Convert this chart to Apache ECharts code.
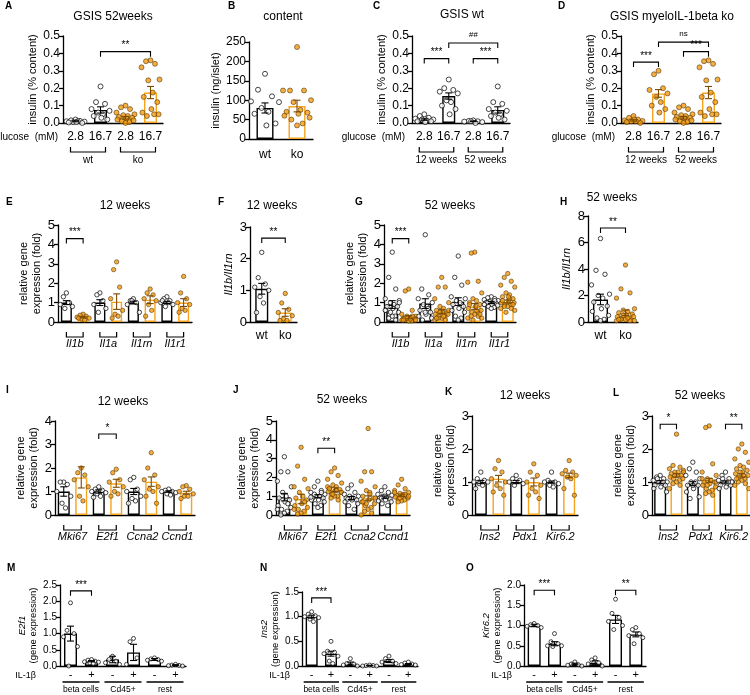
<!DOCTYPE html>
<html><head><meta charset="utf-8">
<script src="https://cdn.jsdelivr.net/npm/echarts@6/dist/echarts.min.js"></script>
<style>html,body{margin:0;padding:0;background:#fff}#c{width:750px;height:695px}</style>
</head><body><div id="c"></div>
<script>
// ---------------- DATA ----------------
const glucoseTicks = ['2.8','16.7','2.8','16.7'];
const wtko = ['wt','ko'];
const il1Genes = ['Il1b','Il1a','Il1rn','Il1r1'];
const cycleGenes = ['Mki67','E2f1','Ccna2','Ccnd1'];
const betaGenes = ['Ins2','Pdx1','Kir6.2'];
const cellGroups = ['beta cells','Cd45+','rest'];
const il1Treat = ['-','+','-','+','-','+'];

// A: GSIS 52 weeks (wt 2.8, wt 16.7, ko 2.8, ko 16.7)
const A_mean = [0.01, 0.075, 0.03, 0.175];
const A_sem  = [0.003, 0.018, 0.008, 0.035];
const wt52_28  = [0.02,0.015,0.012,0.01,0.008,0.005,0.01,0.003,0.0,0.006];
const wt52_167 = [0.21,0.12,0.11,0.08,0.07,0.06,0.05,0.04,0.02,0.03];
const ko52_28  = [0.1,0.09,0.08,0.06,0.05,0.045,0.04,0.035,0.03,0.025,0.02,0.015,0.01,0.005,0.0];
const ko52_167 = [0.36,0.355,0.34,0.32,0.25,0.245,0.175,0.15,0.12,0.08,0.06,0.05,0.04,0.05];
const A_sig = [[1,3,0.41,'**']];

// B: content
const B_mean = [80, 85];
const B_sem  = [13, 15];
const B_wt = [168,127,110,97,95,80,70,65,40,35];
const B_ko = [237,125,125,125,100,95,75,70,68,65,60,55,50,40,35];

// C: GSIS wt (12w 2.8, 12w 16.7, 52w 2.8, 52w 16.7)
const C_mean = [0.02, 0.155, 0.01, 0.075];
const C_sem  = [0.004, 0.018, 0.002, 0.018];
const wt12_28  = [0.05,0.04,0.03,0.025,0.02,0.02,0.015,0.01,0.01,0.005];
const wt12_167 = [0.25,0.2,0.19,0.18,0.17,0.13,0.12,0.1,0.08,0.05];
const wt52b_28 = [0.015,0.012,0.01,0.008,0.005,0.01,0.0];
const C_sig = [[0,1,0.37,'***'],[1,3,0.46,'##'],[2,3,0.37,'***']];

// D: GSIS myeloIL-1beta ko
const D_mean = [0.015, 0.17, 0.03, 0.175];
const D_sem  = [0.004, 0.022, 0.008, 0.035];
const ko12_28  = [0.04,0.03,0.02,0.015,0.012,0.01,0.01,0.005,0.0,0.02];
const ko12_167 = [0.3,0.28,0.2,0.19,0.17,0.15,0.12,0.1,0.08,0.06];
const D_sig = [[0,1,0.35,'***'],[1,3,0.465,'ns'],[2,3,0.41,'***']];

// E: 12 weeks IL-1 family
const E_mean = [1.0,0.25,1.0,1.05,1.0,1.15,1.0,1.0];
const E_sem  = [0.1,0.04,0.15,0.4,0.07,0.2,0.05,0.2];
const E_pts = [
  [1.5,1.3,1.0,0.9,0.8,0.7,1.0],
  [0.4,0.35,0.3,0.25,0.2,0.15,0.1,0.2],
  [1.5,1.4,1.1,0.9,0.7,0.5],
  [3.1,2.7,1.8,1.2,0.6,0.4,0.3,0.2],
  [1.2,1.1,1.0,0.9,0.5,1.1],
  [1.7,1.5,1.4,1.2,1.1,0.9,0.6,0.3],
  [1.3,1.2,1.1,1.0,0.9,0.8,1.0,1.1],
  [2.35,1.5,1.2,1.0,0.9,0.7,0.6,0.5]];
const E_sig = [[0,1,4.3,'***']];

// F: Il1b/Il1rn 12 weeks
const F_mean = [1.05, 0.3];
const F_sem  = [0.17, 0.12];
const F_wt = [2.2,1.4,1.2,1.1,1.0,0.8,0.6,0.3];
const F_ko = [0.9,0.6,0.4,0.3,0.2,0.1,0.05,0.05];
const F_sig = [[0,1,2.65,'**']];

// G: 52 weeks IL-1 family
const G_mean = [0.9,0.25,0.95,0.55,1.05,0.8,1.0,1.05];
const G_sem  = [0.2,0.08,0.25,0.1,0.2,0.15,0.05,0.08];
const G_pts = [
  [3.6,2.3,1.7,1.2,1.1,1.0,0.9,0.8,0.8,0.7,0.6,0.5,0.4,0.3,0.3,0.2,0.1,0.6,1.0,0.5],
  [1.7,1.6,0.6,0.4,0.3,0.3,0.2,0.2,0.2,0.15,0.1,0.1,0.1,0.05,0.05,0.2,0.3,0.1,0.1,0.2,0.15,0.1],
  [4.5,1.7,1.4,1.2,1.0,0.9,0.8,0.6,0.5,0.4,0.3,0.2,0.1,0.7,0.5],
  [2.3,1.8,1.8,1.2,1.0,0.8,0.7,0.6,0.5,0.5,0.4,0.4,0.3,0.3,0.2,0.2,0.1,0.1,0.6,0.5,0.3,0.2],
  [3.4,2.3,1.9,1.3,1.2,1.1,1.0,0.9,0.8,0.7,0.6,0.5,0.3,0.2,0.1],
  [3.6,3.55,2.1,2.05,1.5,1.2,1.1,1.0,0.9,0.8,0.7,0.6,0.5,0.5,0.4,0.3,0.3,0.2,0.2,0.1,0.6,0.9,0.4],
  [1.3,1.25,1.2,1.15,1.1,1.05,1.0,1.0,0.95,0.9,0.9,0.85,0.8,0.75,0.7,1.0,1.1,0.9],
  [2.5,2.3,2.1,1.9,1.8,1.5,1.4,1.3,1.2,1.1,1.0,1.0,0.9,0.9,0.8,0.8,0.7,0.7,0.6,0.5,1.2,1.1,0.9,1.3]];
const G_sig = [[0,1,4.3,'***']];

// H: Il1b/Il1rn 52 weeks
const H_mean = [1.7, 0.7];
const H_sem  = [0.4, 0.2];
const H_wt = [6.3,3.9,3.6,2.8,2.1,2.0,1.8,1.5,1.2,1.0,0.8,0.5,0.3,0.2,0.1];
const H_ko = [4.3,2.5,2.2,1.8,1.0,0.9,0.8,0.7,0.6,0.5,0.4,0.4,0.3,0.3,0.2,0.2,0.1,0.1,0.1,0.5,0.3,0.2];
const H_sig = [[0,1,7.1,'**']];

// I: 12 weeks cell cycle
const I_mean = [1.0,1.6,1.0,1.35,1.0,1.42,1.0,0.95];
const I_sem  = [0.2,0.45,0.07,0.17,0.13,0.2,0.03,0.06];
const I_pts = [
  [1.4,1.4,1.3,1.0,0.8,0.5,0.3],
  [2.0,1.8,1.7,1.5,1.2,0.8,0.6],
  [1.2,1.1,1.05,1.0,0.95,0.9,0.8,0.75],
  [1.95,1.8,1.5,1.4,1.2,1.0,0.9,0.8],
  [1.6,1.5,1.1,1.0,0.8,0.7,0.6,0.5],
  [2.65,2.0,1.7,1.5,1.2,1.1,1.0,0.8,0.5],
  [1.1,1.05,1.0,1.0,0.95,0.9,0.85],
  [1.25,1.2,1.1,1.0,0.9,0.8,0.8,0.7]];
const I_sig = [[2,3,3.45,'*']];

// J: 52 weeks cell cycle
const J_mean = [0.95,0.85,1.0,1.35,0.9,0.9,0.95,1.05];
const J_sem  = [0.2,0.25,0.08,0.1,0.08,0.12,0.06,0.06];
const J_pts = [
  [3.1,2.3,2.3,1.8,1.5,1.2,1.0,0.9,0.8,0.7,0.5,0.4,0.3,0.2,0.1,0.0,0.6,0.3],
  [3.6,2.6,1.9,1.5,1.4,1.2,1.0,0.9,0.8,0.6,0.5,0.4,0.3,0.2,0.1,0.05,0.7,0.3],
  [1.8,1.5,1.3,1.2,1.1,1.0,1.0,0.9,0.9,0.8,0.8,0.7,0.6,0.5,0.4,1.1,1.2,0.95],
  [2.5,2.3,2.1,1.9,1.7,1.6,1.5,1.4,1.35,1.3,1.25,1.2,1.1,1.0,1.0,0.9,0.8,1.5,1.2,1.1,1.3,1.4],
  [1.6,1.4,1.2,1.1,1.0,1.0,0.9,0.9,0.8,0.8,0.7,0.6,0.5,0.3,0.9,0.85],
  [4.6,2.3,2.3,1.8,1.5,1.3,1.2,1.0,0.9,0.8,0.7,0.6,0.5,0.4,0.3,0.2,0.1,0.0,0.9,0.6,1.1,0.7],
  [1.5,1.3,1.2,1.1,1.05,1.0,0.95,0.9,0.85,0.8,0.75,0.7,0.6,0.5,1.0,0.9],
  [1.9,1.6,1.4,1.3,1.2,1.15,1.1,1.05,1.0,1.0,0.95,0.9,0.85,0.8,0.75,0.7,1.1,1.2,1.0,0.9]];
const J_sig = [[2,3,3.55,'**']];

// K: 12 weeks beta-cell genes
const K_mean = [1.0,1.1,1.0,1.0,1.0,1.2];
const K_sem  = [0.05,0.1,0.05,0.12,0.03,0.07];
const K_pts = [
  [1.3,1.1,1.05,1.0,1.0,0.95,0.9,0.8],
  [1.65,1.4,1.3,1.1,1.0,0.9,0.8,0.7,0.6],
  [1.2,1.1,1.05,1.0,0.95,0.9],
  [1.55,1.3,1.2,1.0,0.9,0.8,0.7,0.6,0.5],
  [1.3,1.05,1.0,1.0,0.95,0.9,0.85],
  [1.65,1.35,1.3,1.25,1.2,1.15,1.1,0.8,0.6]];

// L: 52 weeks beta-cell genes
const L_mean = [1.0,1.2,0.95,1.05,1.0,1.2];
const L_sem  = [0.04,0.05,0.06,0.06,0.03,0.05];
const L_pts = [
  [1.2,1.15,1.1,1.05,1.0,1.0,0.95,0.9,0.9,0.85,0.8,0.7,1.1,1.0],
  [2.45,1.5,1.45,1.4,1.35,1.3,1.3,1.25,1.2,1.2,1.15,1.1,1.1,1.05,1.0,0.95,0.9,0.8,1.3,1.2],
  [1.6,1.4,1.3,1.2,1.1,1.0,0.95,0.9,0.9,0.8,0.7,0.55,0.5,1.0,0.9],
  [2.7,2.65,1.55,1.3,1.2,1.1,1.05,1.0,1.0,0.95,0.9,0.85,0.8,0.75,0.7,0.65,0.6,1.1,1.0,0.9],
  [1.3,1.2,1.1,1.05,1.0,1.0,0.95,0.9,0.9,0.85,0.8,1.0,1.1,1.0],
  [2.15,2.0,1.9,1.7,1.6,1.5,1.45,1.4,1.35,1.3,1.25,1.2,1.15,1.1,1.05,1.0,0.95,0.9,0.8,1.3,1.2,1.1]];
const L_sig = [[0,1,2.75,'*'],[4,5,2.75,'**']];

// M: E2f1 after IL-1beta
const M_mean = [1.0,0.15,0.2,0.42,0.2,0.03];
const M_sem  = [0.23,0.02,0.1,0.25,0.03,0.01];
const M_pts = [
  [1.95,1.1,1.0,0.9,0.6,0.0],
  [0.2,0.18,0.15,0.13,0.12,0.1,0.08],
  [0.3,0.2,0.15,0.1,0.05],
  [0.85,0.75,0.25,0.05],
  [0.25,0.22,0.2,0.18,0.15],
  [0.05,0.03,0.02,0.01,0.0]];
const M_sig = [[0,1,2.32,'***']];

// N: Ins2 after IL-1beta
const N_mean = [1.0,0.25,0.05,0.01,0.1,0.04];
const N_sem  = [0.03,0.05,0.03,0.005,0.03,0.01];
const N_pts = [
  [1.1,1.05,1.02,1.0,0.98,0.95,0.9],
  [0.5,0.3,0.28,0.25,0.2,0.1,0.05],
  [0.15,0.05,0.04,0.02,0.0],
  [0.02,0.01,0.01,0.0,0.0],
  [0.2,0.15,0.1,0.08,0.05],
  [0.08,0.06,0.04,0.03,0.02]];
const N_sig = [[0,1,1.38,'***']];

// O: Kir6.2 after IL-1beta
const O_mean = [1.0,0.55,0.05,0.08,1.15,0.78];
const O_sem  = [0.03,0.05,0.02,0.05,0.1,0.06];
const O_pts = [
  [1.05,1.02,1.0,0.98,0.95],
  [0.8,0.6,0.55,0.5,0.5,0.48],
  [0.1,0.05,0.03,0.02,0.0],
  [0.2,0.15,0.08,0.05,0.0],
  [1.65,1.3,1.2,1.1,1.0,0.9],
  [0.95,0.9,0.8,0.75,0.7,0.55]];
const O_sig = [[0,1,1.87,'***'],[4,5,1.87,'**']];

// ---------------- RENDERING ----------------
const FONT = 'Liberation Sans, Arial, sans-serif';
const NARROW = 'Liberation Sans Narrow, Liberation Sans, Arial, sans-serif';
const ORANGE = '#F6A31E';
const PT_OR = '#F39A14';
const PT_OR_EDGE = '#4a3000';
const jitPat = [0,-0.5,0.5,-1,1,-0.25,0.25,-0.75,0.75,0.1,-0.9,0.9,-0.4,0.4];

const option = {animation:false, backgroundColor:'#fff', grid:[], xAxis:[], yAxis:[], series:[], graphic:[]};

function addPanel(p){
  const gi = option.grid.length;
  const ff = p.font || FONT;
  const col = i => p.colors[i] === 'o' ? ORANGE : '#000';
  option.grid.push({left:p.left, top:p.top, width:p.width, height:p.height});
  option.xAxis.push({type:'category', gridIndex:gi, data:p.means.map((_,i)=>'c'+i),
    axisLine:{show:true, onZero:false, lineStyle:{color:'#000', width:1.3}}, axisTick:{show:false},
    axisLabel:{show:!!p.xlabels, interval:0, color:'#000', fontSize:p.xfs||11, fontFamily:ff, margin:p.xmargin||5,
      formatter:(v,i)=>p.xlabels ? p.xlabels[i] : ''},
    splitLine:{show:false}});
  option.yAxis.push({type:'value', gridIndex:gi, min:0, max:p.max, interval:p.step,
    axisLine:{show:true, lineStyle:{color:'#000', width:1.3}},
    axisTick:{show:true, length:4, lineStyle:{color:'#000', width:1.3}},
    axisLabel:{color:'#000', fontSize:p.yfs||11, fontFamily:ff, margin:3, formatter:v=>v.toFixed(p.dec||0)},
    splitLine:{show:false},
    name:p.yname, nameLocation:'middle', nameRotate:90, nameGap:p.nameGap,
    nameTextStyle:{color:'#000', fontSize:p.nfs||11, fontFamily:ff, lineHeight:(p.nfs||11)+2,
      rich:{i:{fontStyle:'italic', fontSize:p.nfs||11, fontFamily:ff, color:'#000'}}}});
  // bars
  option.series.push({type:'bar', xAxisIndex:gi, yAxisIndex:gi, barWidth:p.bw, silent:true, z:2,
    data:p.means.map((m,i)=>({value:m, itemStyle:{color:'#fff', borderColor:col(i), borderWidth:1.4}}))});
  // points
  const pdata = [];
  p.points.forEach((arr,i)=>{
    arr.forEach((v,j)=>{
      const isO = p.colors[i] === 'o';
      pdata.push({value:[i,v], symbolOffset:[jitPat[j % jitPat.length]*p.spread, 0],
        itemStyle:{color:isO?PT_OR:'#fff', borderColor:isO?PT_OR_EDGE:'#000', borderWidth:isO?0.7:0.9}});
    });
  });
  option.series.push({type:'scatter', xAxisIndex:gi, yAxisIndex:gi, symbol:'circle', symbolSize:p.ps||4.5,
    silent:true, z:3, data:pdata});
  // error bars
  option.series.push({type:'custom', xAxisIndex:gi, yAxisIndex:gi, clip:false, silent:true, z:4,
    encode:{x:0, y:1},
    data:p.means.map((m,i)=>[i, m, p.sem[i]]),
    renderItem:(params, api)=>{
      const x = api.value(0), m = api.value(1), e = api.value(2);
      const t = api.coord([x, m+e]), b = api.coord([x, Math.max(0, m-e)]);
      const c = p.colors[params.dataIndex] === 'o' ? '#7a4a00' : '#000';
      const cap = p.cap || 3.5;
      const st = {stroke:c, lineWidth:1.1};
      return {type:'group', children:[
        {type:'line', shape:{x1:t[0], y1:t[1], x2:b[0], y2:b[1]}, style:st},
        {type:'line', shape:{x1:t[0]-cap, y1:t[1], x2:t[0]+cap, y2:t[1]}, style:st},
        {type:'line', shape:{x1:b[0]-cap, y1:b[1], x2:b[0]+cap, y2:b[1]}, style:st}]};
    }});
  // significance brackets
  if (p.sig) {
    option.series.push({type:'custom', xAxisIndex:gi, yAxisIndex:gi, clip:false, silent:true, z:5,
      encode:{x:0, y:2},
      data:p.sig.map(s=>[s[0], s[1], s[2]]),
      renderItem:(params, api)=>{
        const a = api.coord([api.value(0), api.value(2)]);
        const b = api.coord([api.value(1), api.value(2)]);
        const tk = 5;
        const txt = p.sig[params.dataIndex][3];
        const small = (txt === 'ns' || txt === '##');
        return {type:'group', children:[
          {type:'polyline', shape:{points:[[a[0],a[1]+tk],[a[0],a[1]],[b[0],b[1]],[b[0],b[1]+tk]]},
            style:{stroke:'#000', lineWidth:1.1, fill:null}},
          {type:'text', x:(a[0]+b[0])/2, y:a[1]-(small?4:1),
            style:{text:txt, fill:'#000', fontSize:small?8:10, fontFamily:ff,
              fontStyle: txt==='##'?'italic':'normal',
              textAlign:'center', textVerticalAlign:'bottom'}}]};
      }});
  }
  // group brackets below axis
  if (p.groups) {
    const g = p.gstyle;
    option.series.push({type:'custom', xAxisIndex:gi, yAxisIndex:gi, clip:false, silent:true, z:5,
      encode:{x:0, y:2},
      data:p.groups.map(s=>[s[0], s[1], 0]),
      renderItem:(params, api)=>{
        const a = api.coord([api.value(0), 0]);
        const b = api.coord([api.value(1), 0]);
        const x1 = a[0]-g.ext, x2 = b[0]+g.ext;
        const y0 = a[1] + g.off;
        const pts = g.line ? [[x1,y0],[x2,y0]] : [[x1,y0],[x1,y0+g.h],[x2,y0+g.h],[x2,y0]];
        return {type:'group', children:[
          {type:'polyline', shape:{points:pts}, style:{stroke:'#000', lineWidth:g.lw||1.2, fill:null}},
          {type:'text', x:(x1+x2)/2, y:a[1]+g.toff,
            style:{text:p.groups[params.dataIndex][2], fill:'#000', fontSize:g.fs, fontFamily:g.ff||FONT,
              fontStyle:g.italic?'italic':'normal', textAlign:'center', textVerticalAlign:'middle'}}]};
      }});
  }
}

const ins = 'insulin (% content)';
const relExp = 'relative gene\nexpression (fold)';
const BK = ['k','k','k','k','k','k'];
const WKO2 = ['k','o'];
const WKO8 = ['k','o','k','o','k','o','k','o'];
const row1G = {off:24, h:5, ext:5, toff:37, fs:10};
const row2G = {off:10, h:5, ext:0, toff:22, fs:11, italic:true};
const row4G = {off:16, h:0, ext:8, toff:24, fs:8.5, line:true, lw:1.3, ff:NARROW};

// Row 1
addPanel({left:63, top:36, width:100, height:87, max:0.5, step:0.1, dec:1, yfs:12, nfs:11, yname:ins, nameGap:24,
  means:A_mean, sem:A_sem, colors:['k','k','o','o'], points:[wt52_28, wt52_167, ko52_28, ko52_167],
  bw:13, spread:9, ps:5, xlabels:glucoseTicks, xfs:12, xmargin:8, sig:A_sig,
  groups:[[0,1,'wt'],[2,3,'ko']], gstyle:row1G});
addPanel({left:249, top:42, width:64, height:97, max:250, step:50, yfs:12, nfs:11, yname:'insulin (ng/islet)', nameGap:27,
  means:B_mean, sem:B_sem, colors:WKO2, points:[B_wt, B_ko], bw:17, spread:14, ps:5, xlabels:wtko, xfs:12, xmargin:10});
addPanel({left:412, top:36, width:98, height:87, max:0.5, step:0.1, dec:1, yfs:12, nfs:11, yname:ins, nameGap:24,
  means:C_mean, sem:C_sem, colors:BK, points:[wt12_28, wt12_167, wt52b_28, wt52_167],
  bw:13, spread:9, ps:5, xlabels:glucoseTicks, xfs:12, xmargin:8, sig:C_sig,
  groups:[[0,1,'12 weeks'],[2,3,'52 weeks']], gstyle:row1G});
addPanel({left:621, top:36, width:100, height:87, max:0.5, step:0.1, dec:1, yfs:12, nfs:11, yname:ins, nameGap:24,
  means:D_mean, sem:D_sem, colors:['o','o','o','o'], points:[ko12_28, ko12_167, ko52_28, ko52_167],
  bw:13, spread:9, ps:5, xlabels:glucoseTicks, xfs:12, xmargin:8, sig:D_sig,
  groups:[[0,1,'12 weeks'],[2,3,'52 weeks']], gstyle:row1G});

// Row 2
addPanel({left:58, top:225, width:134, height:97, max:5, step:1, yfs:13, nfs:11, yname:relExp, nameGap:14,
  means:E_mean, sem:E_sem, colors:WKO8, points:E_pts, bw:11, spread:6, ps:4.4, sig:E_sig,
  groups:[[0,1,il1Genes[0]],[2,3,il1Genes[1]],[4,5,il1Genes[2]],[6,7,il1Genes[3]]], gstyle:row2G});
addPanel({left:250, top:227, width:47, height:95, max:3, step:1, yfs:13, nfs:11, yname:'{i|Il1b/Il1rn}', nameGap:14,
  means:F_mean, sem:F_sem, colors:WKO2, points:[F_wt, F_ko], bw:13, spread:7, ps:4.4, xlabels:wtko, xfs:12, xmargin:8, sig:F_sig});
addPanel({left:384, top:225, width:132, height:97, max:5, step:1, yfs:13, nfs:11, yname:relExp, nameGap:14,
  means:G_mean, sem:G_sem, colors:WKO8, points:G_pts, bw:12, spread:7, ps:4.4, sig:G_sig,
  groups:[[0,1,il1Genes[0]],[2,3,il1Genes[1]],[4,5,il1Genes[2]],[6,7,il1Genes[3]]], gstyle:row2G});
addPanel({left:588, top:216, width:50, height:106, max:8, step:2, yfs:13, nfs:11, yname:'{i|Il1b/Il1rn}', nameGap:14,
  means:H_mean, sem:H_sem, colors:WKO2, points:[H_wt, H_ko], bw:15, spread:9, ps:4.4, xlabels:wtko, xfs:12, xmargin:8, sig:H_sig});

// Row 3
addPanel({left:55, top:421, width:140, height:94, max:4, step:1, yfs:13, nfs:11, yname:relExp, nameGap:14,
  means:I_mean, sem:I_sem, colors:WKO8, points:I_pts, bw:12, spread:7, ps:4.4, sig:I_sig,
  groups:[[0,1,cycleGenes[0]],[2,3,cycleGenes[1]],[4,5,cycleGenes[2]],[6,7,cycleGenes[3]]], gstyle:row2G});
addPanel({left:276, top:421, width:134, height:94, max:5, step:1, yfs:13, nfs:11, yname:relExp, nameGap:14,
  means:J_mean, sem:J_sem, colors:WKO8, points:J_pts, bw:12, spread:7, ps:4.4, sig:J_sig,
  groups:[[0,1,cycleGenes[0]],[2,3,cycleGenes[1]],[4,5,cycleGenes[2]],[6,7,cycleGenes[3]]], gstyle:row2G});
addPanel({left:472, top:416, width:106, height:99, max:3, step:1, yfs:13, nfs:11, yname:relExp, nameGap:14,
  means:K_mean, sem:K_sem, colors:['k','o','k','o','k','o'], points:K_pts, bw:12, spread:7, ps:4.4,
  groups:[[0,1,betaGenes[0]],[2,3,betaGenes[1]],[4,5,betaGenes[2]]], gstyle:row2G});
addPanel({left:652, top:416, width:98, height:99, max:3, step:1, yfs:13, nfs:11, yname:relExp, nameGap:14,
  means:L_mean, sem:L_sem, colors:['k','o','k','o','k','o'], points:L_pts, bw:12, spread:7, ps:4.4, sig:L_sig,
  groups:[[0,1,betaGenes[0]],[2,3,betaGenes[1]],[4,5,betaGenes[2]]], gstyle:row2G});

// Row 4
addPanel({left:60, top:585, width:126, height:81, max:2.5, step:0.5, dec:1, yfs:10, nfs:9.5, font:NARROW,
  yname:'{i|E2f1}\n(gene expression)', nameGap:18,
  means:M_mean, sem:M_sem, colors:BK, points:M_pts, bw:13, spread:7, ps:4, xlabels:il1Treat, xfs:11, xmargin:3, sig:M_sig,
  groups:[[0,1,cellGroups[0]],[2,3,cellGroups[1]],[4,5,cellGroups[2]]], gstyle:row4G});
addPanel({left:302, top:592, width:116, height:74, max:1.5, step:0.5, dec:1, yfs:10, nfs:9.5, font:NARROW,
  yname:'{i|Ins2}\n(gene expression)', nameGap:18,
  means:N_mean, sem:N_sem, colors:BK, points:N_pts, bw:12, spread:7, ps:4, xlabels:il1Treat, xfs:11, xmargin:3, sig:N_sig,
  groups:[[0,1,cellGroups[0]],[2,3,cellGroups[1]],[4,5,cellGroups[2]]], gstyle:row4G});
addPanel({left:524, top:585, width:122, height:81, max:2.0, step:0.5, dec:1, yfs:10, nfs:9.5, font:NARROW,
  yname:'{i|Kir6.2}\n(gene expression)', nameGap:18,
  means:O_mean, sem:O_sem, colors:BK, points:O_pts, bw:13, spread:7, ps:4, xlabels:il1Treat, xfs:11, xmargin:3, sig:O_sig,
  groups:[[0,1,cellGroups[0]],[2,3,cellGroups[1]],[4,5,cellGroups[2]]], gstyle:row4G});

// Panel letters, titles, side labels
const letters = [['A',5,6],['B',228,6],['C',373,6],['D',558,6],['E',6,202],['F',218,202],['G',355,202],['H',560,202],
  ['I',6,390],['J',233,390],['K',445,392],['L',613,393],['M',7,568],['N',260,568],['O',466,568]];
letters.forEach(l=>option.graphic.push({type:'text', x:l[1], y:l[2], style:{text:l[0], font:'bold 10px '+FONT, fill:'#000', textAlign:'left', textVerticalAlign:'middle'}}));
const titles = [['GSIS 52weeks',113,17],['content',283,17],['GSIS wt',462,15],['GSIS myeloIL-1beta ko',672,17],
  ['12 weeks',125,206],['12 weeks',272,206],['52 weeks',450,206],['52 weeks',612,198],
  ['12 weeks',123,402],['52 weeks',342,400],['12 weeks',525,396],['52 weeks',700,396]];
titles.forEach(t=>option.graphic.push({type:'text', x:t[1], y:t[2], style:{text:t[0], font:'12px '+FONT, fill:'#000', textAlign:'center', textVerticalAlign:'middle'}}));
const sideLabels = [['glucose  (mM)',58,137,10],['glucose  (mM)',405,137,10],['glucose  (mM)',615,137,10],
  ['IL-1\u03b2',36,676,9],['IL-1\u03b2',290,676,9],['IL-1\u03b2',512,676,9]];
sideLabels.forEach(t=>option.graphic.push({type:'text', x:t[1], y:t[2], style:{text:t[0], font:t[3]+'px '+FONT, fill:'#000', textAlign:'right', textVerticalAlign:'middle'}}));

const chart = echarts.init(document.getElementById('c'), null, {renderer:'canvas'});
chart.setOption(option);
</script>
</body></html>
